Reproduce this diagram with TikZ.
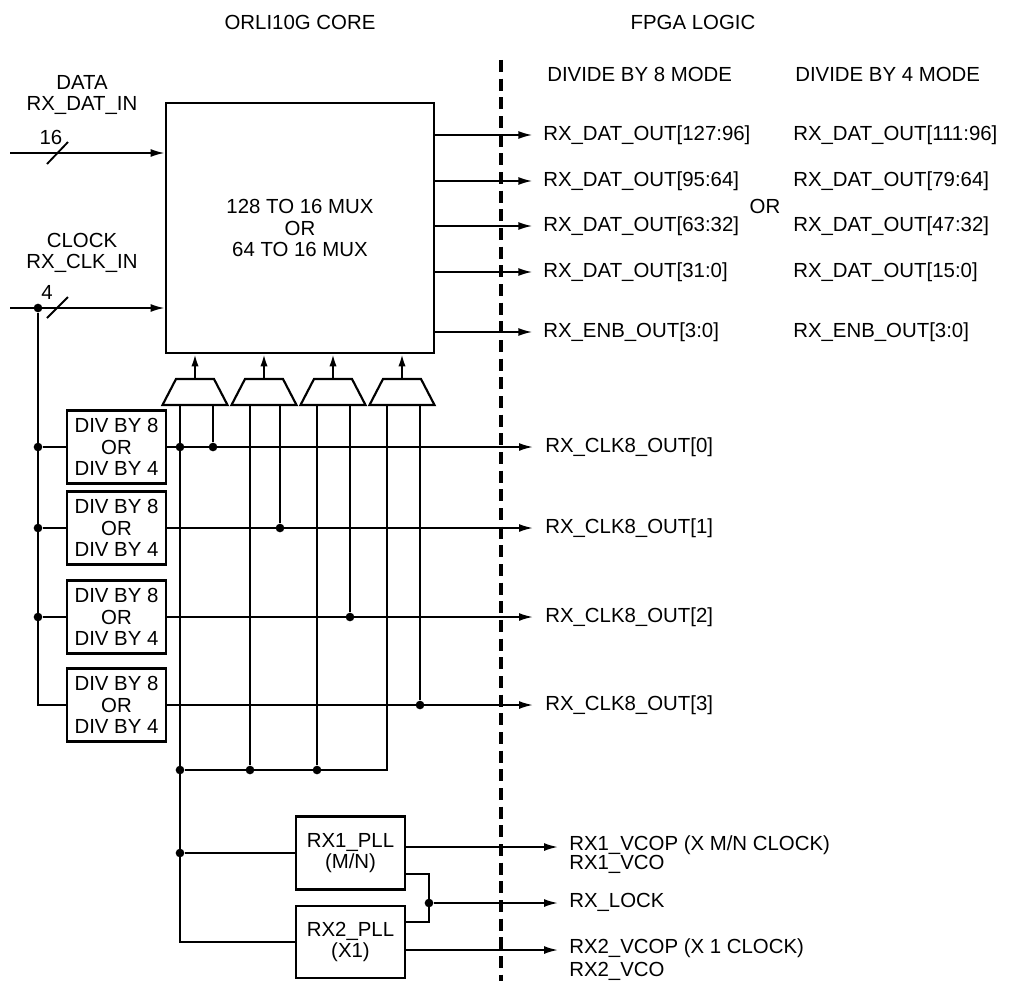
\documentclass[tikz,border=0pt]{standalone}
\usepackage{fontspec}
\setmainfont{Liberation Sans}
\usetikzlibrary{arrows.meta}
\begin{document}
\begin{tikzpicture}[x=0.75pt,y=-0.75pt,
  font=\fontsize{15.3}{16.2}\selectfont,
  wire/.style={line width=1.4pt},
  arr/.style={wire,-{Latex[length=10.5pt,width=6pt]}},
  uparr/.style={wire,-{Latex[length=9pt,width=5.5pt]}},
  blk/.style={draw,line width=2.1pt,inner sep=0pt,align=center},
  lbl/.style={inner sep=0pt,anchor=west},
  dot/.style={circle,fill,inner sep=0pt,minimum size=6.5pt},
  trap/.style={line width=1.6pt,line join=miter},
]
\useasboundingbox (0,0) rectangle (1023,981);

% headings
\node (hcore) at (300,22) {ORLI10G CORE};
\node (hfpga) at (693,22) {FPGA LOGIC};
\node[lbl] (h8) at (547,74) {DIVIDE BY 8 MODE};
\node[lbl] (h4) at (795,74) {DIVIDE BY 4 MODE};

% boundary
\coordinate (dtop) at (501,60);
\coordinate (dbot) at (501,981);
\draw[line width=2.3pt,dash pattern=on 9pt off 5pt] (dtop) -- (dbot);

% mux block
\node[blk,minimum width=201pt,minimum height=187.5pt] (mux) at (300,228)
  {128 TO 16 MUX\\OR\\64 TO 16 MUX};

% inputs
\node[align=center,inner sep=0pt] (datalbl) at (82,95) {DATA\\RX\_DAT\_IN};
\coordinate (din) at (10,153);
\draw[arr] (din) -- (din -| mux.west);
\draw[wire] (47,164) -- (68,142);
\node[inner sep=0pt] (n16) at (51,137) {16};

\node[align=center,inner sep=0pt] (clklbl) at (82,253) {CLOCK\\RX\_CLK\_IN};
\coordinate (cin) at (10,308);
\draw[arr] (cin) -- (cin -| mux.west);
\draw[wire] (47,318) -- (68,297);
\node[inner sep=0pt] (n4) at (47,292) {4};
\node[dot] (cj) at (38,308) {};

% mux outputs
\foreach \y/\a/\b [count=\i] in {135/127:96/111:96,181/95:64/79:64,226/63:32/47:32,272/31:0/15:0}{
  \node[lbl] (oa\i) at (543,\y) {RX\_DAT\_OUT[\a]};
  \node[lbl] (ob\i) at (793,\y) {RX\_DAT\_OUT[\b]};
  \draw[arr] (oa\i.west -| mux.east) -- ([xshift=-8pt]oa\i.west);
}
\node[lbl] (oa5) at (543,332) {RX\_ENB\_OUT[3:0]};
\node[lbl] (ob5) at (793,332) {RX\_ENB\_OUT[3:0]};
\draw[arr] (oa5.west -| mux.east) -- ([xshift=-8pt]oa5.west);
\node (orlbl) at (765,206) {OR};

% divider blocks
\foreach \y [count=\i] in {447,528,617,705}{
  \node[blk,minimum width=74.25pt,minimum height=54.75pt] (d\i) at (116.5,\y)
    {DIV BY 8\\OR\\DIV BY 4};
  \node[lbl] (ck\i) at (545,\y) {RX\_CLK8\_OUT[\the\numexpr\i-1\relax]};
  \draw[arr] (d\i.east) -- ([xshift=-9pt]ck\i.west);
}
% clock distribution to dividers
\node[dot] (lj1) at (38,447) {};
\node[dot] (lj2) at (38,528) {};
\node[dot] (lj3) at (38,617) {};
\coordinate (lc4) at (38,705);
\draw[wire] (cj) -- (lc4) -- (d4.west);
\draw[wire] (lj1) -- (d1.west);
\draw[wire] (lj2) -- (d2.west);
\draw[wire] (lj3) -- (d3.west);

% small muxes
\foreach \cx [count=\i] in {195,264,333,402}{
  \draw[trap] (\cx-32.5,405) -- (\cx-19,379) -- (\cx+19,379) -- (\cx+32.5,405) -- cycle;
  \coordinate (m\i top) at (\cx,379);
  \draw[uparr] (m\i top) -- (m\i top |- mux.south);
}
\coordinate (m1a) at (180,405); \coordinate (m1b) at (213,405);
\coordinate (m2a) at (250,405); \coordinate (m2b) at (280,405);
\coordinate (m3a) at (317,405); \coordinate (m3b) at (350,405);
\coordinate (m4a) at (387,405); \coordinate (m4b) at (420,405);

% right inputs
\node[dot] (r1) at (213,447) {};
\node[dot] (r2) at (280,528) {};
\node[dot] (r3) at (350,617) {};
\node[dot] (r4) at (420,705) {};
\draw[wire] (m1b) -- (r1);
\draw[wire] (m2b) -- (r2);
\draw[wire] (m3b) -- (r3);
\draw[wire] (m4b) -- (r4);

% left inputs and bus
\node[dot] (k1) at (180,447) {};
\node[dot] (b1) at (180,770) {};
\node[dot] (b2) at (250,770) {};
\node[dot] (b3) at (317,770) {};
\coordinate (b4) at (387,770);
\draw[wire] (m2a) -- (b2);
\draw[wire] (m3a) -- (b3);
\draw[wire] (m4a) -- (b4) -- (b1);

% PLLs
\node[blk,minimum width=81.75pt,minimum height=54.75pt] (p1) at (350.5,853) {RX1\_PLL\\(M/N)};
\node[blk,minimum width=81.75pt,minimum height=54pt] (p2) at (350.5,942) {RX2\_PLL\\(X1)};
\node[dot] (pj1) at (180,853) {};
\coordinate (pc2) at (180,942);
\draw[wire] (m1a) -- (pc2) -- (p2.west);
\draw[wire] (pj1) -- (p1.west);

\node[lbl] (v1) at (569,845) {RX1\_VCOP (X M/N CLOCK)};
\node[lbl] (v1b) at (569,864) {RX1\_VCO};
\node[lbl] (lk) at (569,902) {RX\_LOCK};
\node[lbl] (v2) at (569,948) {RX2\_VCOP (X 1 CLOCK)};
\node[lbl] (v2b) at (569,971) {RX2\_VCO};

\coordinate (p1o) at (405,847);
\draw[arr] (p1.east |- p1o) -- (558,847);
\node[dot] (lj) at (429,903) {};
\draw[wire] (p1.east |- 0,874) -- (429,874) -- (429,922) -- (p2.east |- 0,922);
\draw[arr] (lj) -- (558,903);
\draw[arr] (p2.east |- 0,950) -- (558,950);
\end{tikzpicture}
\end{document}
